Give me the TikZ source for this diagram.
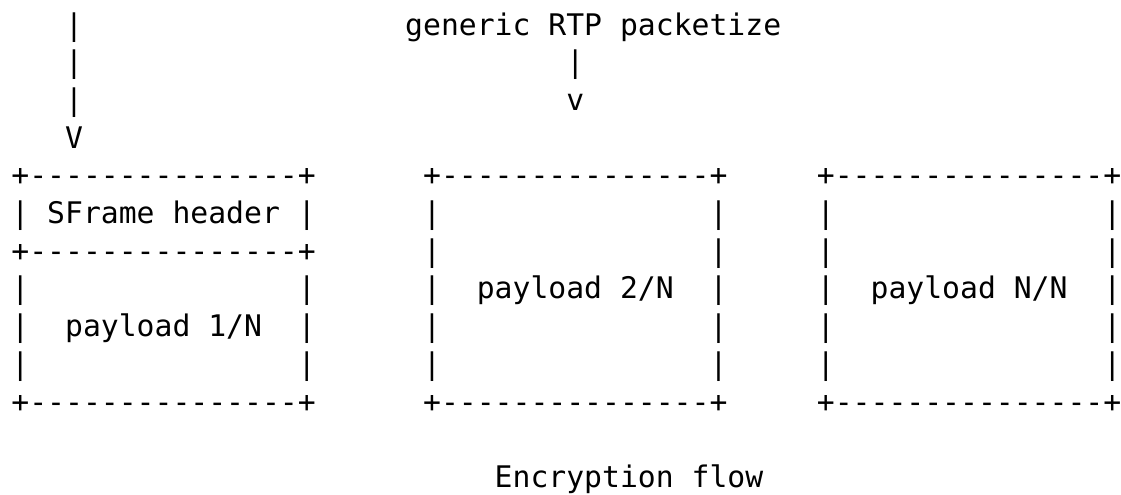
\documentclass[tikz,border=0pt]{standalone}
\usepackage{fontspec}
\setmonofont{DejaVu Sans Mono}
\newcommand{\colx}[1]{11+17.9*(#1)}
\newcommand{\rowy}[1]{35+37.7*(#1)}
\tikzstyle{ascii}=[font=\ttfamily\fontsize{14.87pt}{18.85pt}\selectfont,
  anchor=base west, inner sep=0pt]

\begin{document}
\begin{tikzpicture}[x=0.5pt, y=-0.5pt]
  \useasboundingbox (0,0) rectangle (1121,494);

  % left input, straight into box 1
  \foreach \r in {0,1,2}
    \node[ascii] (in\r) at ({\colx{3}},{\rowy{\r}}) {|};
  \node[ascii] (intip) at ({\colx{3}},{\rowy{3}}) {V};

  % packetizer input
  \node[ascii] (pkt) at ({\colx{22}},{\rowy{0}}) {generic RTP packetize};
  \node[ascii] (pktbar) at ({\colx{31}},{\rowy{1}}) {|};
  \node[ascii] (pkttip) at ({\colx{31}},{\rowy{2}}) {v};

  % box 1: header + first payload
  \node[ascii] (hdrtop) at ({\colx{0}},{\rowy{4}}) {+---------------+};
  \node[ascii] (hdr) at ({\colx{0}},{\rowy{5}}) {|~SFrame~header~|};
  \node[ascii] (hdrbot) at ({\colx{0}},{\rowy{6}}) {+---------------+};
  \foreach \r in {7,9}
    \node[ascii] (one\r) at ({\colx{0}},{\rowy{\r}}) {|~~~~~~~~~~~~~~~|};
  \node[ascii] (one) at ({\colx{0}},{\rowy{8}}) {|~~payload~1/N~~|};
  \node[ascii] (onebot) at ({\colx{0}},{\rowy{10}}) {+---------------+};

  % boxes 2 and N
  \foreach \b/\c/\k in {two/23/2, last/45/N} {
    \node[ascii] (\b-top) at ({\colx{\c}},{\rowy{4}}) {+---------------+};
    \foreach \r in {5,6,8,9}
      \node[ascii] (\b\r) at ({\colx{\c}},{\rowy{\r}}) {|~~~~~~~~~~~~~~~|};
    \node[ascii] (\b) at ({\colx{\c}},{\rowy{7}}) {|~~payload~\k/N~~|};
    \node[ascii] (\b-bot) at ({\colx{\c}},{\rowy{10}}) {+---------------+};
  }

  \node[ascii] (caption) at ({\colx{27}},{\rowy{12}}) {Encryption flow};
\end{tikzpicture}
\end{document}
